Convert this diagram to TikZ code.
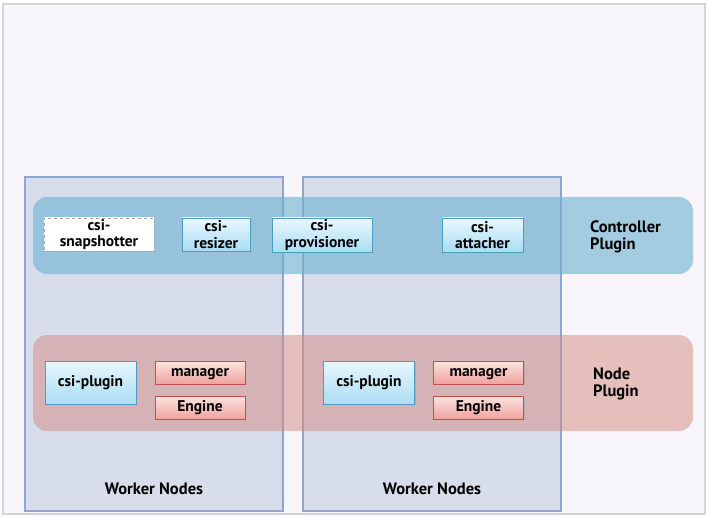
\documentclass[tikz,border=0pt]{standalone}
\usepackage{fontspec}
\setmainfont{PT Sans}
\usepackage{tikz}
\usetikzlibrary{shadows}
\usepackage{xcolor}

\definecolor{frameline}{HTML}{D6D4D8}
\definecolor{framefill}{HTML}{F8F6FA}
\definecolor{workerfill}{HTML}{D8DDEC}
\definecolor{workerline}{HTML}{8FA6D0}
\definecolor{ctrlfill}{HTML}{6CB1D0}
\definecolor{nodefill}{HTML}{D1897F}
\definecolor{bluetop}{HTML}{EAF7FD}
\definecolor{bluebot}{HTML}{A9DDF4}
\definecolor{blueline}{HTML}{4E9CC2}
\definecolor{redtop}{HTML}{FCE3E1}
\definecolor{redbot}{HTML}{EFA29D}
\definecolor{redline}{HTML}{C0504D}

\tikzset{
    worker/.style={draw=workerline, line width=1.2pt, fill=workerfill, inner sep=0pt},
    band/.style={rounded corners=14pt, inner sep=0pt},
    csibox/.style={draw=blueline, line width=0.8pt, top color=bluetop, bottom color=bluebot,
        align=center, inner sep=0pt, font=\fontsize{15.5}{16.5}\selectfont\bfseries,
        drop shadow={shadow xshift=1pt, shadow yshift=-1.2pt, opacity=0.25}},
    redbox/.style={draw=redline, line width=0.8pt, top color=redtop, bottom color=redbot,
        minimum width=90pt, minimum height=23pt, inner sep=0pt,
        text height=10pt, text depth=2pt,
        font=\fontsize{15.5}{16}\selectfont\bfseries,
        drop shadow={shadow xshift=1pt, shadow yshift=-1.2pt, opacity=0.25}},
    plainlabel/.style={align=left, inner sep=0pt, font=\fontsize{16.5}{17}\selectfont\bfseries}
}

\begin{document}
\begin{tikzpicture}[x=1pt, y=-1pt]
    \useasboundingbox (0,0) rectangle (708,518);
    \fill[white] (0,0) rectangle (708,518);

    % Outer frame
    \draw[frameline, line width=1.5pt, fill=framefill] (3,4) rectangle (705,514);

    % Worker nodes
    \node[worker, minimum width=258pt, minimum height=334pt] (workerA) at (154,344) {};
    \node[worker, minimum width=258pt, minimum height=334pt] (workerB) at (432,344) {};
    \node[plainlabel, anchor=center] (workerAlabel) at (154,489) {Worker Nodes};
    \node[plainlabel, anchor=center] (workerBlabel) at (432,489) {Worker Nodes};

    % Plugin bands
    \node[band, fill=ctrlfill, fill opacity=0.6, minimum width=660pt, minimum height=77pt] (ctrlband) at (363,235.5) {};
    \node[band, fill=nodefill, fill opacity=0.5, minimum width=660pt, minimum height=96pt] (nodeband) at (363,383) {};
    \node[plainlabel, anchor=west] (ctrllabel) at (590,237) {Controller\\Plugin};
    \node[plainlabel, anchor=west] (nodelabel) at (593,383.5) {Node\\Plugin};

    % Controller sidecars
    \node[csibox, draw=gray!70, dashed, top color=white, bottom color=white,
        minimum width=110pt, minimum height=33pt] (snapshotter) at (99,234.5) {\strut csi-\\snapshotter};
    \node[csibox, minimum width=68pt, minimum height=33pt] (resizer) at (216,234.5) {\strut csi-\\resizer};
    \node[csibox, minimum width=100pt, minimum height=34pt] (provisioner) at (322,235) {\strut csi-\\provisioner};
    \node[csibox, minimum width=81pt, minimum height=34pt] (attacher) at (482.5,235) {\strut csi-\\attacher};

    % Node plugin, first worker
    \node[csibox, minimum width=91pt, minimum height=43pt] (pluginA) at (90.5,382.5) {csi-plugin};
    \node[redbox] (managerA) at (200,372.5) {manager};
    \node[redbox] (engineA) at (200,407.5) {Engine};

    % Node plugin, second worker
    \node[csibox, minimum width=91pt, minimum height=43pt] (pluginB) at (369,382.5) {csi-plugin};
    \node[redbox] (managerB) at (478.5,372.5) {manager};
    \node[redbox] (engineB) at (478.5,407.5) {Engine};
\end{tikzpicture}
\end{document}
